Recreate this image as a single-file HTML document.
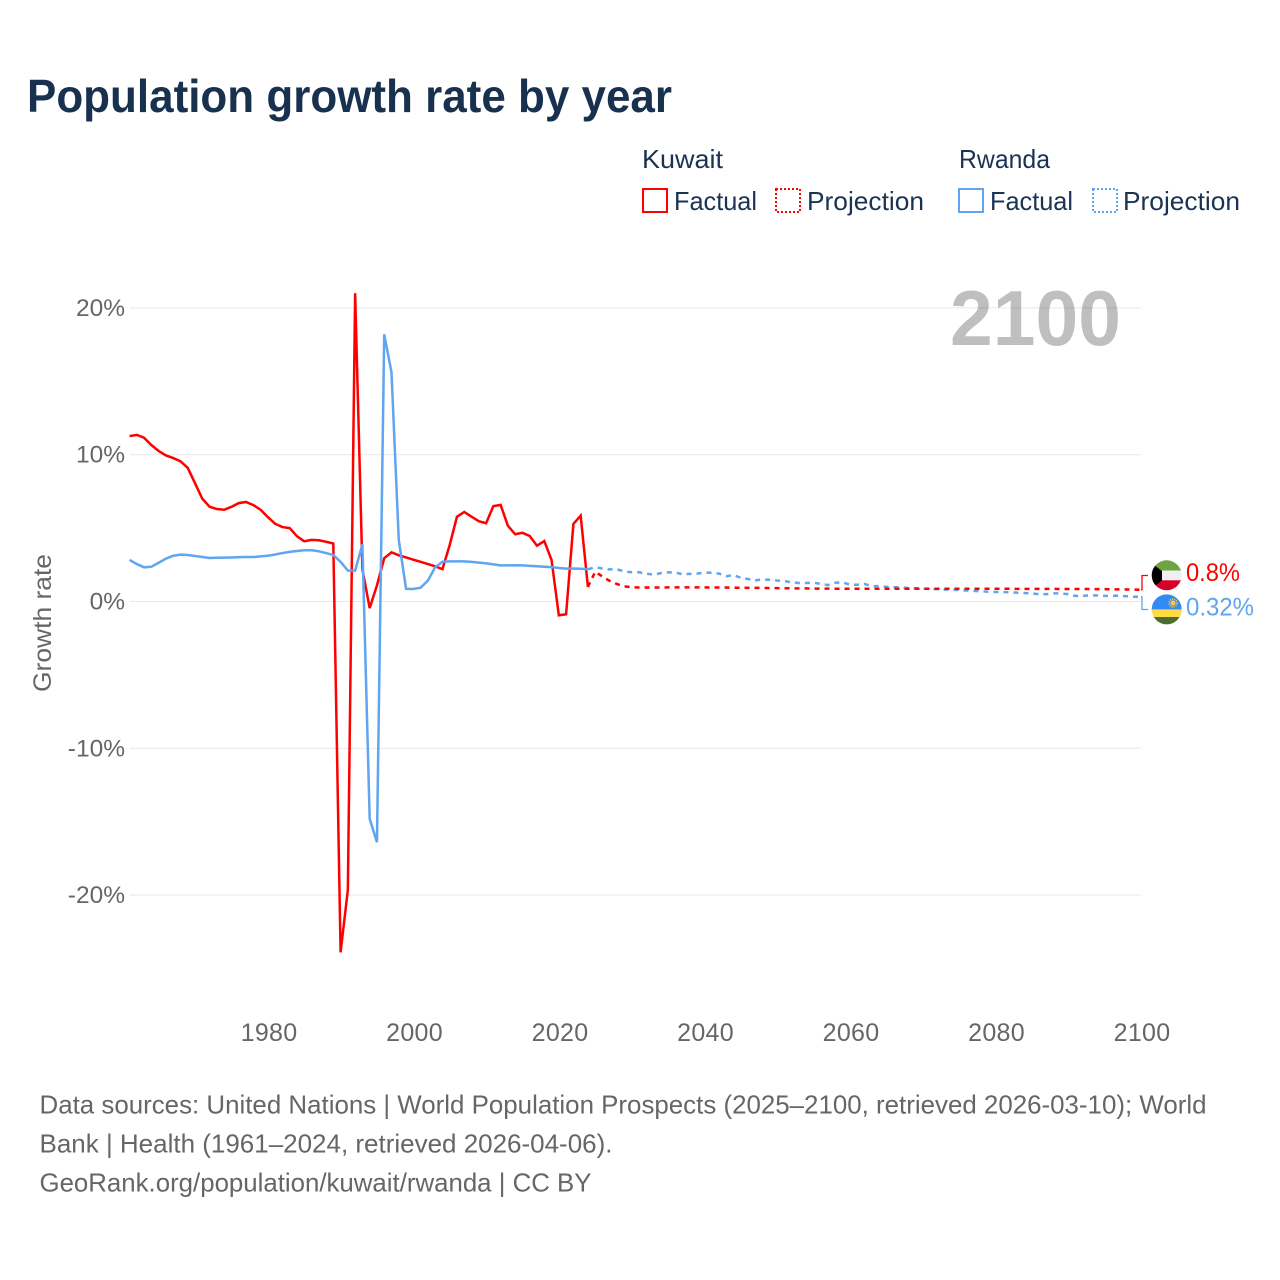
<!DOCTYPE html>
<html lang="en">
<head>
<meta charset="utf-8">
<title>Population growth rate by year</title>
<style>
html,body{margin:0;padding:0;background:#fff;width:1280px;height:1280px;overflow:hidden}
svg{display:block}
text{font-family:"Liberation Sans",sans-serif}
</style>
</head>
<body>
<svg id="chart" xmlns="http://www.w3.org/2000/svg" width="1280" height="1280" viewBox="0 0 1280 1280">
  <rect x="0" y="0" width="1280" height="1280" fill="#fff"/>
  <text x="27" y="112" font-size="46.5" font-weight="700" fill="#17314f" textLength="645" lengthAdjust="spacingAndGlyphs">Population growth rate by year</text>

  <g font-size="26" fill="#1b3353">
    <text x="642" y="168" textLength="81" lengthAdjust="spacingAndGlyphs">Kuwait</text>
    <text x="959" y="168" textLength="91" lengthAdjust="spacingAndGlyphs">Rwanda</text>
    <g>
      <rect x="643" y="189" width="24" height="23" fill="none" stroke="#ff0000" stroke-width="2"/>
      <text x="674" y="210" textLength="83" lengthAdjust="spacingAndGlyphs">Factual</text>
    </g>
    <g>
      <rect x="776" y="189" width="24" height="23" fill="none" stroke="#ff0000" stroke-width="2" stroke-dasharray="2 2"/>
      <text x="807" y="210" textLength="117" lengthAdjust="spacingAndGlyphs">Projection</text>
    </g>
    <g>
      <rect x="959" y="189" width="24" height="23" fill="none" stroke="#5fa5f0" stroke-width="2"/>
      <text x="990" y="210" textLength="83" lengthAdjust="spacingAndGlyphs">Factual</text>
    </g>
    <g>
      <rect x="1093" y="189" width="24" height="23" fill="none" stroke="#5fa5f0" stroke-width="2" stroke-dasharray="2 2"/>
      <text x="1123" y="210" textLength="117" lengthAdjust="spacingAndGlyphs">Projection</text>
    </g>
  </g>

  <g id="grid"></g>
  <g id="yticks"></g>
  <g id="xticks"></g>
  <text transform="translate(51,692) rotate(-90)" font-size="25" fill="#666" textLength="138" lengthAdjust="spacingAndGlyphs">Growth rate</text>

  <g id="series"></g>
  <text id="year-label" x="950" y="345" font-size="78" font-weight="700" fill="#000" fill-opacity="0.25" textLength="171" lengthAdjust="spacingAndGlyphs">2100</text>
  <g id="end-markers"></g>

  <defs>
    <clipPath id="clip-kw"><circle cx="1166.7" cy="575.3" r="15"/></clipPath>
    <clipPath id="clip-rw"><circle cx="1166.7" cy="609.4" r="15"/></clipPath>
  </defs>
  <g clip-path="url(#clip-kw)">
    <rect x="1150" y="560" width="34" height="11" fill="#6da544"/>
    <rect x="1150" y="570.5" width="34" height="10" fill="#f0f0f0"/>
    <rect x="1150" y="580.3" width="34" height="11" fill="#d80027"/>
    <polygon points="1150,562 1162,571 1162,580.3 1150,590" fill="#000"/>
  </g>
  <g clip-path="url(#clip-rw)">
    <rect x="1150" y="594" width="34" height="16" fill="#338af3"/>
    <rect x="1150" y="609.4" width="34" height="8" fill="#ffda44"/>
    <rect x="1150" y="617" width="34" height="9" fill="#496e2d"/>
    <circle cx="1173" cy="603" r="2.6" fill="#ffc63a"/>
    <circle cx="1173" cy="603" r="4" fill="none" stroke="#ffc63a" stroke-width="1.4" stroke-dasharray="1.2 1"/>
  </g>

  <g font-size="26" fill="#666">
    <text x="39.5" y="1113.5" textLength="1167" lengthAdjust="spacingAndGlyphs">Data sources: United Nations | World Population Prospects (2025–2100, retrieved 2026-03-10); World</text>
    <text x="39.5" y="1152.5" textLength="573" lengthAdjust="spacingAndGlyphs">Bank | Health (1961–2024, retrieved 2026-04-06).</text>
    <text x="39.5" y="1191.5" textLength="552" lengthAdjust="spacingAndGlyphs">GeoRank.org/population/kuwait/rwanda | CC BY</text>
  </g>
</svg>
<script>
var startYear = 1961;
var yTickValues = [20, 10, 0, -10, -20];
var yTickLabels = ["20%", "10%", "0%", "-10%", "-20%"];
var xTickYears = [1980, 2000, 2020, 2040, 2060, 2080, 2100];

var kuwaitFactual = [11.27,11.35,11.15,10.65,10.25,9.95,9.77,9.55,9.1,8.05,7.0,6.45,6.3,6.25,6.45,6.7,6.78,6.57,6.25,5.75,5.3,5.07,5.0,4.45,4.1,4.2,4.17,4.07,3.95,-23.9,-19.65,21.0,2.2,-0.45,1.1,2.95,3.35,3.15,3.0,2.85,2.7,2.55,2.4,2.2,3.85,5.78,6.1,5.78,5.47,5.33,6.5,6.58,5.16,4.58,4.68,4.46,3.8,4.12,2.83,-0.94,-0.87,5.28,5.85,0.99];
var kuwaitProjection = [0.99,2.03,1.7,1.4,1.19,1.03,0.97,0.95,0.95,0.95,0.95,0.96,0.96,0.96,0.96,0.96,0.96,0.95,0.95,0.95,0.94,0.94,0.93,0.93,0.92,0.92,0.91,0.9,0.9,0.89,0.89,0.88,0.88,0.88,0.87,0.87,0.87,0.87,0.87,0.87,0.87,0.87,0.87,0.87,0.87,0.87,0.87,0.87,0.87,0.87,0.87,0.87,0.87,0.87,0.87,0.87,0.87,0.87,0.87,0.86,0.86,0.86,0.86,0.86,0.86,0.85,0.85,0.85,0.85,0.85,0.84,0.84,0.83,0.83,0.82,0.81,0.8];
var rwandaFactual = [2.83,2.55,2.33,2.37,2.64,2.92,3.12,3.19,3.17,3.1,3.03,2.96,2.98,2.99,3.0,3.02,3.03,3.03,3.07,3.12,3.2,3.3,3.38,3.44,3.49,3.5,3.42,3.3,3.17,2.7,2.1,2.1,3.9,-14.8,-16.4,18.2,15.6,4.2,0.87,0.85,0.94,1.42,2.33,2.71,2.73,2.73,2.73,2.7,2.65,2.6,2.53,2.46,2.46,2.47,2.46,2.43,2.4,2.37,2.34,2.28,2.24,2.25,2.23,2.2];
var rwandaProjection = [2.2,2.33,2.25,2.19,2.19,2.05,1.99,1.99,1.9,1.83,1.93,1.98,1.98,1.85,1.88,1.9,1.97,1.96,1.9,1.72,1.8,1.62,1.53,1.44,1.5,1.48,1.43,1.4,1.3,1.26,1.26,1.28,1.2,1.12,1.28,1.3,1.15,1.14,1.2,1.05,1.05,1.0,0.98,0.95,0.92,0.9,0.88,0.85,0.84,0.82,0.8,0.78,0.75,0.72,0.7,0.66,0.65,0.65,0.62,0.6,0.58,0.55,0.5,0.5,0.55,0.55,0.5,0.38,0.38,0.42,0.42,0.38,0.38,0.4,0.36,0.32,0.32];
var kuwaitEndLabel = "0.8%";
var rwandaEndLabel = "0.32%";
var kuwaitEndValue = 0.8;
var rwandaEndValue = 0.32;

var NS = "http://www.w3.org/2000/svg";
var RED = "#ff0000";
var BLUE = "#5fa5f0";
var LINE_W = 2.5;

function xScale(year) { return 129.6 + (year - startYear) * 7.275; }
function yScale(value) { return 601.5 - value * 14.68; }

function make(tag, attrs, parent) {
  var el = document.createElementNS(NS, tag);
  for (var k in attrs) el.setAttribute(k, attrs[k]);
  parent.appendChild(el);
  return el;
}

function linePath(values, firstYear) {
  return values.map(function (v, i) {
    return (i ? "L" : "M") + xScale(firstYear + i).toFixed(2) + " " + yScale(v).toFixed(2);
  }).join(" ");
}

var grid = document.getElementById("grid");
var yticks = document.getElementById("yticks");
var xticks = document.getElementById("xticks");
var series = document.getElementById("series");
var ends = document.getElementById("end-markers");

yTickValues.forEach(function (v, i) {
  var y = yScale(v);
  var line = make("line", { x1: 130, x2: 1141, y1: y, y2: y, stroke: "#e8e8e8", "stroke-width": 1 }, grid);
  
  
  var t = make("text", { x: 125, y: y + 8, "text-anchor": "end", "font-size": 24.5, fill: "#666" }, yticks);
  
  
  t.textContent = yTickLabels[i];
});

xTickYears.forEach(function (yr) {
  var t = make("text", { x: xScale(yr) + 1.2, y: 1041, "text-anchor": "middle", "font-size": 25, "letter-spacing": 0.3, fill: "#666" }, xticks);
  
  
  t.textContent = yr;
});

var p;
p = make("path", { d: linePath(rwandaProjection, 2024), fill: "none", stroke: BLUE, "stroke-width": LINE_W, "stroke-dasharray": "5 5" }, series);



p = make("path", { d: linePath(kuwaitFactual, startYear), fill: "none", stroke: RED, "stroke-width": LINE_W }, series);



p = make("path", { d: linePath(rwandaFactual, startYear), fill: "none", stroke: BLUE, "stroke-width": LINE_W }, series);



p = make("path", { d: linePath(kuwaitProjection, 2024), fill: "none", stroke: RED, "stroke-width": LINE_W, "stroke-dasharray": "5 5" }, series);



var ky = yScale(kuwaitEndValue);
var ry = yScale(rwandaEndValue);
var c1 = make("path", { d: "M1141 " + ky + " H1142 V575.5 H1148", fill: "none", stroke: RED, "stroke-width": 1.3 }, ends);


var c2 = make("path", { d: "M1141 " + ry + " H1142 V609.5 H1148", fill: "none", stroke: BLUE, "stroke-width": 1.3 }, ends);



var l1 = make("text", { x: 1186, y: 581, "font-size": 25, fill: RED, textLength: 54, lengthAdjust: "spacingAndGlyphs" }, ends);


l1.textContent = kuwaitEndLabel;
var l2 = make("text", { x: 1186, y: 615.5, "font-size": 25, fill: BLUE, textLength: 68, lengthAdjust: "spacingAndGlyphs" }, ends);


l2.textContent = rwandaEndLabel;
</script>
</body>
</html>
